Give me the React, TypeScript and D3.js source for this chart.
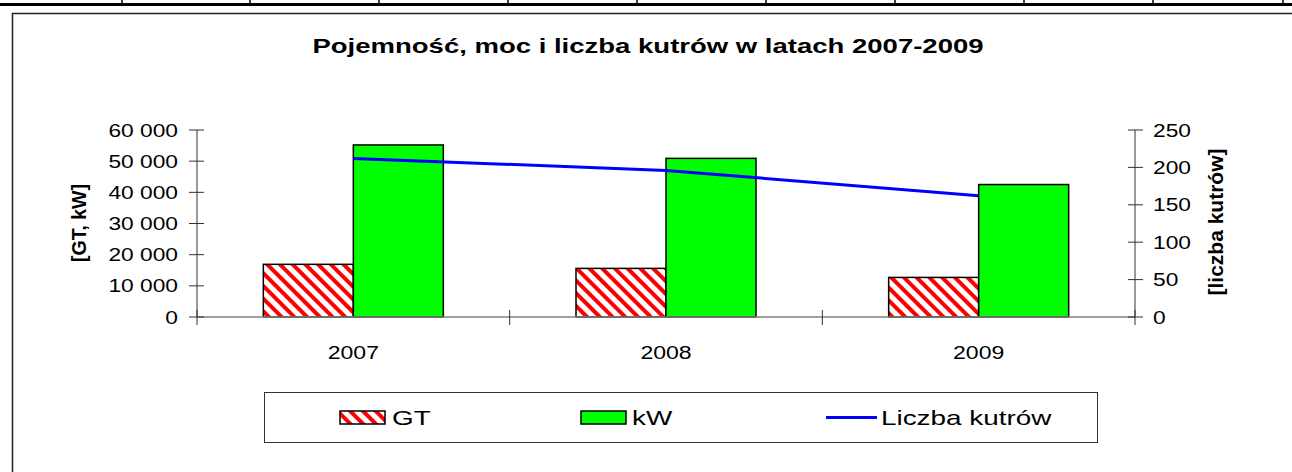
import React from "react";
import * as d3 from "d3";

const years = ["2007", "2008", "2009"];
const gtValues = [16900, 15600, 12700];
const kwValues = [55200, 50900, 42500];
const boatCounts = [212, 196, 162];
const leftTicks = [0, 10000, 20000, 30000, 40000, 50000, 60000];
const rightTicks = [0, 50, 100, 150, 200, 250];
const seriesNames = ["GT", "kW"];

const W = 1292;
const H = 472;
const FONT = "'Liberation Sans', Arial, sans-serif";

function SText(props: any) {
  const { x, y, sx = 1, anchor = "start", size = 16, weight = "normal", children } = props;
  return (
    <text
      transform={`translate(${x},${y}) scale(${sx},1)`}
      textAnchor={anchor}
      fontFamily={FONT}
      fontSize={size}
      fontWeight={weight}
      fill="#000"
    >
      {children}
    </text>
  );
}

const fmt = (v: number) => d3.format(",")(v).replace(/,/g, " ");

export default function App() {
  const left = 197, right = 1135, top = 130, bottom = 317;
  const x = d3.scaleBand<string>().domain(years).range([left, right]).paddingInner(0).paddingOuter(0);
  const inner = d3.scaleBand<string>().domain(seriesNames).range([0, x.bandwidth()]).paddingInner(0).paddingOuter(0.737);
  const yL = d3.scaleLinear().domain([0, 60000]).range([bottom, top]);
  const yR = d3.scaleLinear().domain([0, 250]).range([bottom, top]);
  const line = d3.line<number>()
    .x((_, i) => (x(years[i]) as number) + x.bandwidth() / 2)
    .y((d) => yR(d));

  const topTicks = [122, 250, 379, 508, 637, 766, 895, 1024, 1153, 1283];
  const catTicks = [...years.map((y) => x(y) as number), right];

  return (
    <svg width={W} height={H} style={{ position: "absolute", left: 0, top: 0, background: "#fff" }}>
      <defs>
        <pattern id="hatch" patternUnits="userSpaceOnUse" width={9} height={9} patternTransform="rotate(-45)">
          <rect x={0} y={0} width={9} height={9} fill="#fff" />
          <rect x={0} y={0} width={4} height={9} fill="#ff0000" />
        </pattern>
      </defs>
      <rect x={0} y={0} width={W} height={H} fill="#fff" />
      {/* decorative table border at top */}
      <line x1={0} x2={W} y1={4.5} y2={4.5} stroke="#000" strokeWidth={3} />
      {topTicks.map((t) => (
        <line key={t} x1={t} x2={t} y1={0} y2={4} stroke="#000" strokeWidth={1.5} />
      ))}
      {/* chart frame (left and top visible) */}
      <line x1={12.5} x2={12.5} y1={13} y2={H} stroke="#222" strokeWidth={1.5} />
      <line x1={12} x2={W} y1={13.5} y2={13.5} stroke="#222" strokeWidth={1.5} />

      <SText x={648} y={53} anchor="middle" size={21} weight="bold" sx={1.31}>
        Pojemność, moc i liczba kutrów w latach 2007-2009
      </SText>

      {/* bars */}
      {years.map((yr, i) => {
        const x0 = x(yr) as number;
        const vals = [gtValues[i], kwValues[i]];
        return seriesNames.map((s, j) => (
          <rect
            key={yr + s}
            x={x0 + (inner(s) as number)}
            y={yL(vals[j])}
            width={inner.bandwidth()}
            height={bottom - yL(vals[j])}
            fill={j === 0 ? "url(#hatch)" : "#00ff00"}
            stroke="#000"
            strokeWidth={1.5}
          />
        ));
      })}

      {/* axes */}
      <line x1={left} x2={right} y1={bottom} y2={bottom} stroke="#808080" strokeWidth={1.5} />
      <line x1={left} x2={left} y1={top} y2={bottom} stroke="#333" strokeWidth={1} />
      <line x1={right} x2={right} y1={top} y2={bottom} stroke="#333" strokeWidth={1} />
      {leftTicks.map((t) => (
        <g key={"l" + t}>
          <line x1={left - 8} x2={left + 7} y1={yL(t)} y2={yL(t)} stroke="#333" strokeWidth={1} />
          <SText x={178} y={yL(t) + 6.5} anchor="end" size={17.5} sx={1.3}>
            {fmt(t)}
          </SText>
        </g>
      ))}
      {rightTicks.map((t) => (
        <g key={"r" + t}>
          <line x1={right - 7} x2={right + 8} y1={yR(t)} y2={yR(t)} stroke="#333" strokeWidth={1} />
          <SText x={1153} y={yR(t) + 6.5} anchor="start" size={17.5} sx={1.3}>
            {fmt(t)}
          </SText>
        </g>
      ))}
      {catTicks.map((t, i) => (
        <line key={"c" + i} x1={t} x2={t} y1={bottom - 7} y2={bottom + 8} stroke="#333" strokeWidth={1} />
      ))}
      {years.map((yr) => (
        <SText key={"cl" + yr} x={(x(yr) as number) + x.bandwidth() / 2} y={359} anchor="middle" size={18} sx={1.28}>
          {yr}
        </SText>
      ))}

      {/* line series */}
      <path d={line(boatCounts) as string} fill="none" stroke="#0000ff" strokeWidth={3} />

      {/* axis titles */}
      <text transform="translate(86,223) rotate(-90)" textAnchor="middle" fontFamily={FONT} fontSize={19.5} fontWeight="bold">
        [GT, kW]
      </text>
      <text transform="translate(1223,222) rotate(-90)" textAnchor="middle" fontFamily={FONT} fontSize={21} fontWeight="bold">
        [liczba kutrów]
      </text>

      {/* legend */}
      <rect x={264.5} y={392.5} width={833} height={50} fill="#fff" stroke="#333" strokeWidth={1} />
      <rect x={340} y={411} width={45} height={13} fill="url(#hatch)" stroke="#000" strokeWidth={1.5} />
      <SText x={392} y={425} size={20.5} sx={1.36}>GT</SText>
      <rect x={581} y={411} width={45} height={13} fill="#00ff00" stroke="#000" strokeWidth={1.5} />
      <SText x={632} y={425} size={20.5} sx={1.36}>kW</SText>
      <line x1={826} x2={877} y1={417.5} y2={417.5} stroke="#0000ff" strokeWidth={3} />
      <SText x={881} y={425} size={20.5} sx={1.36}>Liczba kutrów</SText>
    </svg>
  );
}
